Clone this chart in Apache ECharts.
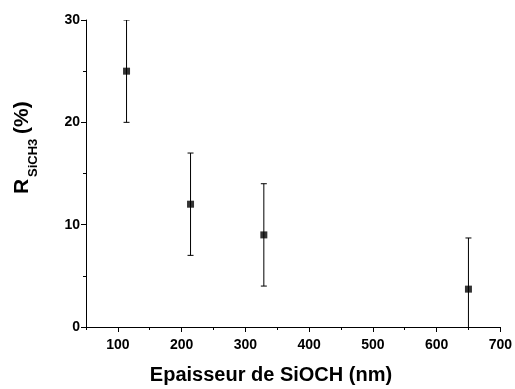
<!DOCTYPE html>
<html>
<head>
<meta charset="utf-8">
<script src="https://cdn.jsdelivr.net/npm/echarts@6/dist/echarts.min.js"></script>
<style>
html,body{margin:0;padding:0;background:#fff;}
#chart{width:515px;height:389px;}
</style>
</head>
<body>
<div id="chart"></div>
<script>
// Data
const thickness = [113.6, 214, 329, 650];      // nm
const rValues   = [25, 12, 9, 3.7];            // %
const errLow    = [20, 7, 4, -1.3];
const errHigh   = [30, 17, 14, 8.7];
const xTicks      = [100, 200, 300, 400, 500, 600, 700];
const xMinorTicks = [50, 150, 250, 350, 450, 550, 650];
const yTicks      = [0, 10, 20, 30];

const FONT = '"Liberation Sans", Arial, sans-serif';

const chart = echarts.init(document.getElementById('chart'), null, {renderer: 'canvas'});

const points = thickness.map((x, i) => [x, rValues[i]]);
const bars = thickness.map((x, i) => [x, errLow[i], errHigh[i]]);

const option = {
  backgroundColor: '#ffffff',
  animation: false,
  grid: {left: 86, right: 13, top: 20, bottom: 62, containLabel: false},
  xAxis: [{
    type: 'value', min: 50, max: 700, position: 'bottom',
    splitLine: {show: false},
    axisLine: {show: true, onZero: false, lineStyle: {color: '#000', width: 1}},
    axisTick: {show: true, customValues: xTicks, length: 5, lineStyle: {color: '#000'}},
    axisLabel: {customValues: xTicks, margin: 11, color: '#000', fontFamily: FONT, fontWeight: 'bold', fontSize: 14},
  }, {
    type: 'value', min: 50, max: 700, position: 'bottom', offset: 0,
    splitLine: {show: false},
    axisLine: {show: false},
    axisTick: {show: true, customValues: xMinorTicks, length: 3, lineStyle: {color: '#000'}},
    axisLabel: {show: false}
  }],
  yAxis: {
    type: 'value', min: yTicks[0], max: yTicks[yTicks.length - 1], interval: 10,
    splitLine: {show: false},
    axisLine: {show: true, onZero: false, lineStyle: {color: '#000', width: 1}},
    axisTick: {show: true, length: 5, lineStyle: {color: '#000'}},
    minorTick: {show: true, splitNumber: 2, length: 3, lineStyle: {color: '#000'}},
    axisLabel: {margin: 6, color: '#000', fontFamily: FONT, fontWeight: 'bold', fontSize: 14}
  },
  graphic: [
    {type: 'text', x: 271, y: 375, style: {text: 'Epaisseur de SiOCH (nm)', align: 'center', verticalAlign: 'middle',
      font: 'bold 20px ' + FONT, fill: '#000'}},
    {type: 'text', x: 22.5, y: 194, rotation: Math.PI / 2, style: {text: 'R', align: 'left', verticalAlign: 'middle',
      font: 'bold 21px ' + FONT, fill: '#000'}},
    {type: 'text', x: 33.5, y: 177, rotation: Math.PI / 2, style: {text: 'SiCH3', align: 'left', verticalAlign: 'middle',
      font: 'bold 13px ' + FONT, fill: '#000'}},
    {type: 'text', x: 22.5, y: 134, rotation: Math.PI / 2, style: {text: '(%)', align: 'left', verticalAlign: 'middle',
      font: 'bold 21px ' + FONT, fill: '#000'}}
  ],
  series: [{
    type: 'custom',
    xAxisIndex: 0,
    clip: true,
    data: bars,
    renderItem: function (params, api) {
      const x = api.value(0);
      const lo = api.coord([x, api.value(1)]);
      const hi = api.coord([x, api.value(2)]);
      const cw = 3;
      const s = {stroke: '#000', lineWidth: 1};
      return {type: 'group', children: [
        {type: 'line', shape: {x1: lo[0], y1: lo[1], x2: hi[0], y2: hi[1]}, style: s},
        {type: 'line', shape: {x1: hi[0] - cw, y1: hi[1], x2: hi[0] + cw, y2: hi[1]}, style: s},
        {type: 'line', shape: {x1: lo[0] - cw, y1: lo[1], x2: lo[0] + cw, y2: lo[1]}, style: s}
      ]};
    },
    z: 2
  }, {
    type: 'scatter',
    xAxisIndex: 0,
    data: points,
    symbol: 'rect',
    symbolSize: 7,
    itemStyle: {color: '#000'},
    z: 3
  }]
};
chart.setOption(option);
</script>
</body>
</html>
